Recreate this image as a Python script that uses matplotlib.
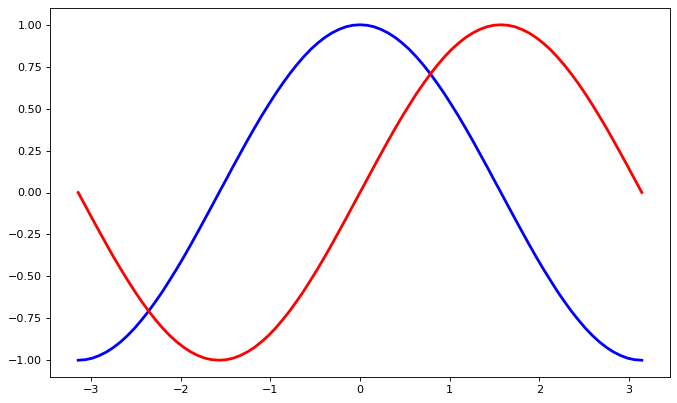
import matplotlib
matplotlib.use("Agg")
import matplotlib.pyplot as plt

x = [-3.142, -3.063, -2.985, -2.906, -2.827, -2.749, -2.670, -2.592, -2.513, -2.435,
     -2.356, -2.278, -2.199, -2.121, -2.042, -1.963, -1.885, -1.806, -1.728, -1.649,
     -1.571, -1.492, -1.414, -1.335, -1.257, -1.178, -1.100, -1.021, -0.942, -0.864,
     -0.785, -0.707, -0.628, -0.550, -0.471, -0.393, -0.314, -0.236, -0.157, -0.079,
     0.000,
     0.079, 0.157, 0.236, 0.314, 0.393, 0.471, 0.550, 0.628, 0.707, 0.785,
     0.864, 0.942, 1.021, 1.100, 1.178, 1.257, 1.335, 1.414, 1.492, 1.571,
     1.649, 1.728, 1.806, 1.885, 1.963, 2.042, 2.121, 2.199, 2.278, 2.356,
     2.435, 2.513, 2.592, 2.670, 2.749, 2.827, 2.906, 2.985, 3.063, 3.142]

blue_curve = [-1.000, -0.997, -0.988, -0.972, -0.951, -0.924, -0.891, -0.853, -0.809, -0.760,
              -0.707, -0.649, -0.588, -0.522, -0.454, -0.383, -0.309, -0.233, -0.156, -0.078,
              0.000, 0.078, 0.156, 0.233, 0.309, 0.383, 0.454, 0.522, 0.588, 0.649,
              0.707, 0.760, 0.809, 0.853, 0.891, 0.924, 0.951, 0.972, 0.988, 0.997,
              1.000,
              0.997, 0.988, 0.972, 0.951, 0.924, 0.891, 0.853, 0.809, 0.760, 0.707,
              0.649, 0.588, 0.522, 0.454, 0.383, 0.309, 0.233, 0.156, 0.078, 0.000,
              -0.078, -0.156, -0.233, -0.309, -0.383, -0.454, -0.522, -0.588, -0.649, -0.707,
              -0.760, -0.809, -0.853, -0.891, -0.924, -0.951, -0.972, -0.988, -0.997, -1.000]

red_curve = [0.000, -0.078, -0.156, -0.233, -0.309, -0.383, -0.454, -0.522, -0.588, -0.649,
             -0.707, -0.760, -0.809, -0.853, -0.891, -0.924, -0.951, -0.972, -0.988, -0.997,
             -1.000, -0.997, -0.988, -0.972, -0.951, -0.924, -0.891, -0.853, -0.809, -0.760,
             -0.707, -0.649, -0.588, -0.522, -0.454, -0.383, -0.309, -0.233, -0.156, -0.078,
             0.000,
             0.078, 0.156, 0.233, 0.309, 0.383, 0.454, 0.522, 0.588, 0.649, 0.707,
             0.760, 0.809, 0.853, 0.891, 0.924, 0.951, 0.972, 0.988, 0.997, 1.000,
             0.997, 0.988, 0.972, 0.951, 0.924, 0.891, 0.853, 0.809, 0.760, 0.707,
             0.649, 0.588, 0.522, 0.454, 0.383, 0.309, 0.233, 0.156, 0.078, 0.000]

fig = plt.figure(figsize=(677 / 80, 403 / 80), dpi=80)
ax = fig.add_axes([50 / 677, 26 / 403, 620 / 677, 369 / 403])
ax.plot(x, blue_curve, color="blue", linewidth=2.5, solid_joinstyle="round")
ax.plot(x, red_curve, color="red", linewidth=2.5, solid_joinstyle="round")
fig.savefig("out.png", dpi=80)
